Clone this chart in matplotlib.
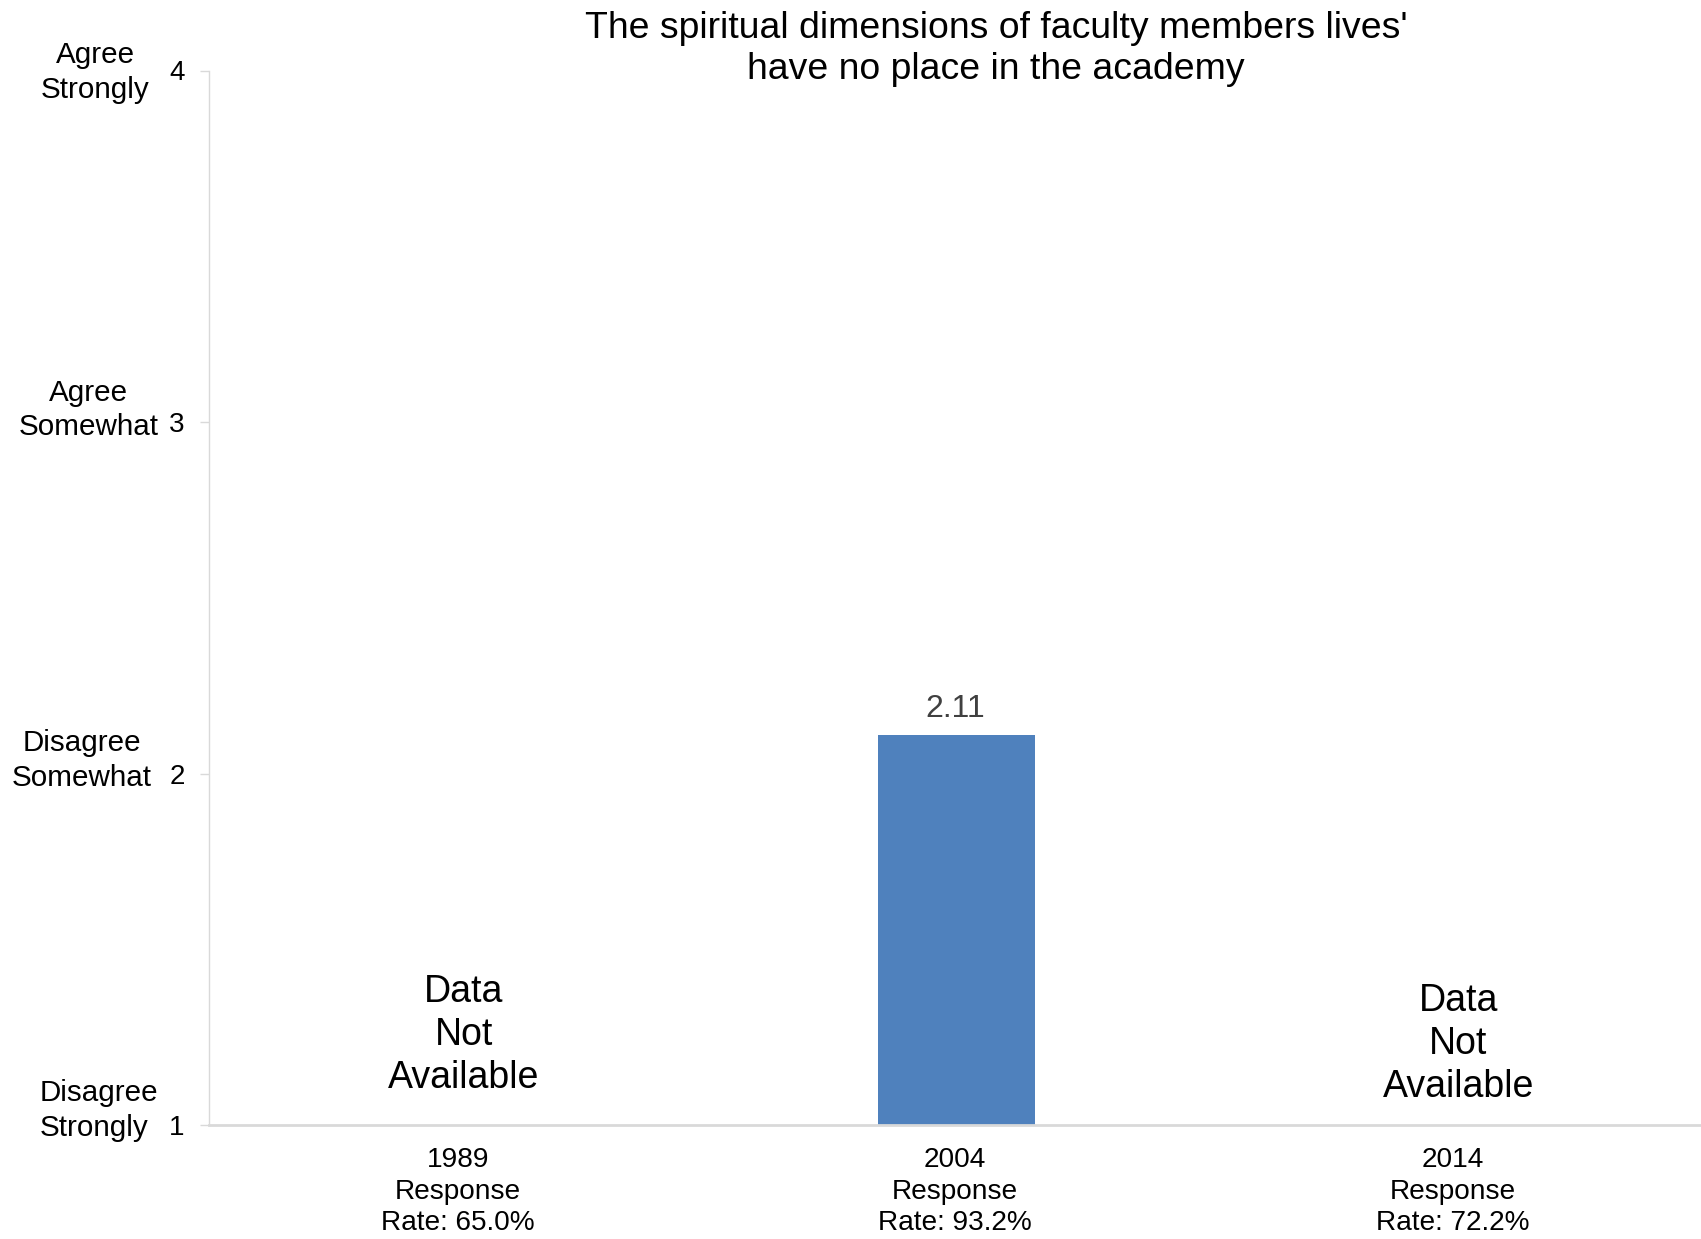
#!/usr/bin/env python3
"""Single-item survey bar chart: faculty spirituality question."""

import matplotlib
matplotlib.use("Agg")
import matplotlib.pyplot as plt
import matplotlib.transforms as mtransforms

years = ["1989", "2004", "2014"]
response_rates = ["65.0%", "93.2%", "72.2%"]
means = [None, 2.11, None]
scale_ticks = [1, 2, 3, 4]
scale_labels = ["Disagree\nStrongly", "Disagree\nSomewhat", "Agree\nSomewhat", "Agree\nStrongly"]
title = "The spiritual dimensions of faculty members lives'\nhave no place in the academy"

plt.rcParams["font.family"] = ["Liberation Sans", "DejaVu Sans"]

W, H, DPI = 1701, 1239, 100
fig = plt.figure(figsize=(W / DPI, H / DPI), dpi=DPI)
ax = fig.add_axes([209 / W, 1 - 1125 / H, 1 - 209 / W, (1125 - 70.5) / H])

grey = "#d9d9d9"
bar_color = "#4f81bd"

xs = list(range(len(years)))
for x, v in zip(xs, means):
    if v is None:
        continue
    ax.bar(x + 0.003, v - 1, bottom=1, width=0.316, color=bar_color)
    ax.text(x, v, f"{v:.2f}", ha="center", va="bottom", fontsize=23,
            color="#404040", transform=ax.transData +
            mtransforms.ScaledTranslation(0, 8 / 72, fig.dpi_scale_trans))

# "Data Not Available" placeholders
na_y = {0: 1.255, 2: 1.230}
for x, v in zip(xs, means):
    if v is None:
        ax.text(x + 0.012, na_y[x], "Data\nNot\nAvailable", ha="center", va="center",
                fontsize=27, linespacing=1.25)

ax.set_xlim(-0.5, 2.5)
ax.set_ylim(1, 4)
ax.set_xticks(xs)
ax.set_xticklabels([f"{y}\nResponse\nRate: {r}" for y, r in zip(years, response_rates)],
                   fontsize=20.2, linespacing=1.27)
ax.set_yticks(scale_ticks)
ax.set_yticklabels([str(t) for t in scale_ticks], fontsize=20)
ax.tick_params(axis="x", length=0, pad=16)
ax.tick_params(axis="y", length=6.5, width=1, color=grey, pad=11)

for side in ["top", "right"]:
    ax.spines[side].set_visible(False)
ax.spines["left"].set_color(grey)
ax.spines["left"].set_linewidth(1)
ax.spines["bottom"].set_color(grey)
ax.spines["bottom"].set_linewidth(2)

# verbal scale labels to the left of the numeric ticks
trans = mtransforms.blended_transform_factory(fig.transFigure, ax.transData)
label_pos = [(0.0235, 1.042, "left"), (0.048, 2.037, "center"),
             (0.052, 3.034, "center"), (0.0559, 3.995, "center")]
for (fx, fy, ha), lab in zip(label_pos, scale_labels):
    ax.text(fx, fy, lab, transform=trans, ha=ha, va="center", fontsize=21.3,
            multialignment=ha, linespacing=1.3)

fig.text(996 / W, 1 - 49 / H, title, ha="center", va="center", fontsize=26.9,
         linespacing=1.24)

fig.savefig("out.png", dpi=DPI)
